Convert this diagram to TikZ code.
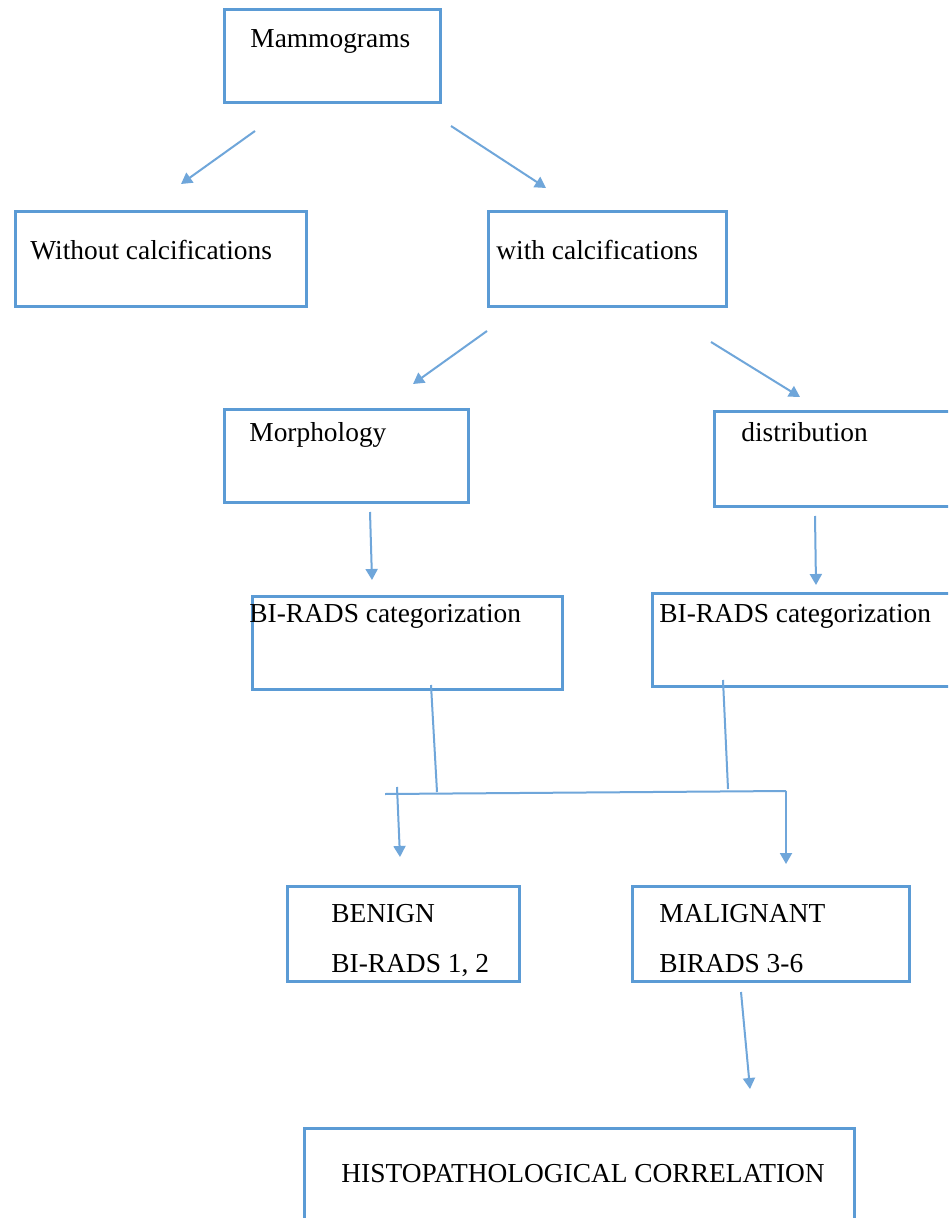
\documentclass[tikz,border=0pt]{standalone}
\usepackage{fontspec}
\setmainfont{Liberation Serif}
\usetikzlibrary{arrows.meta,fit}
\definecolor{bl}{HTML}{5B9BD5}
\definecolor{bla}{HTML}{6FA6DA}
\tikzset{
  box/.style={draw=bl,line width=1.5pt,inner sep=0pt},
  txt/.style={anchor=base west,inner sep=0pt,font=\fontsize{13.7}{16}\selectfont},
  arr/.style={draw=bla,line width=1pt,-{Triangle[length=5.5pt,width=6pt]}},
  ln/.style={draw=bla,line width=1pt},
}
\begin{document}
\begin{tikzpicture}[x=0.5pt,y=-0.5pt]
\useasboundingbox (0,0) rectangle (948,1218);
\clip (0,0) rectangle (948,1218);
\fill[white] (0,0) rectangle (948,1218);
% boxes
\node[box,fit={(224,10) (440,103)}] (mam) {};
\node[box,fit={(15,212) (306,307)}] (wo) {};
\node[box,fit={(488,212) (726,307)}] (wi) {};
\node[box,fit={(224,410) (468,502)}] (mor) {};
\node[box,fit={(714,412) (960,506)}] (dis) {};
\node[box,fit={(252,596) (562,689)}] (bl1) {};
\node[box,fit={(652,593) (960,686)}] (bl2) {};
\node[box,fit={(287,886) (519,981)}] (ben) {};
\node[box,fit={(632,886) (909,981)}] (mal) {};
\node[box,fit={(304,1128) (854,1240)}] (his) {};
% texts
\node[txt] (tmam) at (250,48) {Mammograms};
\node[txt] (two) at (30,260) {Without calcifications};
\node[txt] (twi) at (496,260) {with calcifications};
\node[txt] (tmor) at (249,442) {Morphology};
\node[txt] (tdis) at (741,442) {distribution};
\node[txt] (tbl1) at (249,622) {BI-RADS categorization};
\node[txt] (tbl2) at (659,622) {BI-RADS categorization};
\node[txt] (tben1) at (331,922) {BENIGN};
\node[txt] (tben2) at (331,972) {BI-RADS 1, 2};
\node[txt] (tmal1) at (659,922) {MALIGNANT};
\node[txt] (tmal2) at (659,972) {BIRADS 3-6};
\node[txt] (this) at (341,1182) {HISTOPATHOLOGICAL CORRELATION};
% connector coordinates
\coordinate (a1s) at (255,131); \coordinate (a1e) at (181,184);
\coordinate (a2s) at (451,126); \coordinate (a2e) at (546,188);
\coordinate (a3s) at (487,331); \coordinate (a3e) at (413,384);
\coordinate (a4s) at (711,342); \coordinate (a4e) at (800,397);
\coordinate (a5s) at (370,512); \coordinate (a5e) at (372,580);
\coordinate (a6s) at (815,516); \coordinate (a6e) at (816,585);
\coordinate (l1s) at (431,685); \coordinate (l1e) at (437,792);
\coordinate (l2s) at (723,680); \coordinate (l2e) at (728,789);
\coordinate (hl) at (385,794); \coordinate (hr) at (786,791);
\coordinate (a7s) at (397,787); \coordinate (a7e) at (400,857);
\coordinate (a8e) at (786,864);
\coordinate (a9s) at (741,992); \coordinate (a9e) at (750,1089);
% connectors
\draw[arr] (a1s) -- (a1e);
\draw[arr] (a2s) -- (a2e);
\draw[arr] (a3s) -- (a3e);
\draw[arr] (a4s) -- (a4e);
\draw[arr] (a5s) -- (a5e);
\draw[arr] (a6s) -- (a6e);
\draw[ln] (l1s) -- (l1e);
\draw[ln] (l2s) -- (l2e);
\draw[ln] (hl) -- (hr);
\draw[arr] (a7s) -- (a7e);
\draw[arr] (hr) -- (a8e);
\draw[arr] (a9s) -- (a9e);
\end{tikzpicture}
\end{document}
